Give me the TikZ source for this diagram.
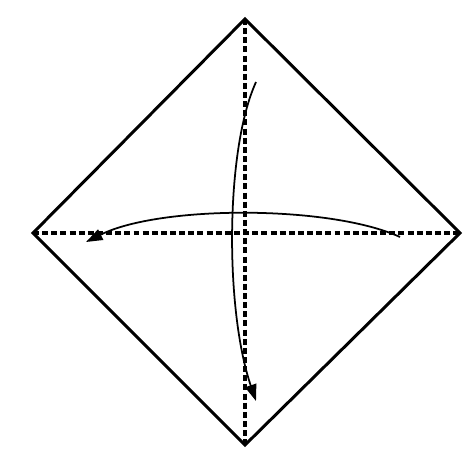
\documentclass[tikz,border=0pt]{standalone}
\usepackage{tikz}
\usetikzlibrary{arrows.meta, positioning}

\begin{document}
\begin{tikzpicture}[x=0.02cm, y=-0.02cm,
            edge/.style={draw, line width=1.7pt, line join=miter},
            crease/.style={line width=2pt, dash pattern=on 3.4pt off 1.8pt},
            fold/.style={-{Triangle[length=3.3mm, width=2.3mm]}, line width=1pt}]

            \useasboundingbox (0,0) rectangle (472,455);

            \coordinate (top) at (245,19);
            \coordinate (right) at (460,233);
            \coordinate (bottom) at (245,445);
            \coordinate (left) at (33,233);

            \coordinate (vstart) at (256,82);
            \coordinate (vend) at (256,401);
            \coordinate (hstart) at (400,237);
            \coordinate (hend) at (86,242);

            \draw[crease] (top) -- (bottom);
            \draw[crease] (left) -- (right);
            \draw[edge] (top) -- (right) -- (bottom) -- (left) -- cycle;

            \draw[fold] (vstart) .. controls (225,150) and (225,310) .. (vend);
            \draw[fold] (hstart) .. controls (330,205) and (160,205) .. (hend);
        \end{tikzpicture}
\end{document}
